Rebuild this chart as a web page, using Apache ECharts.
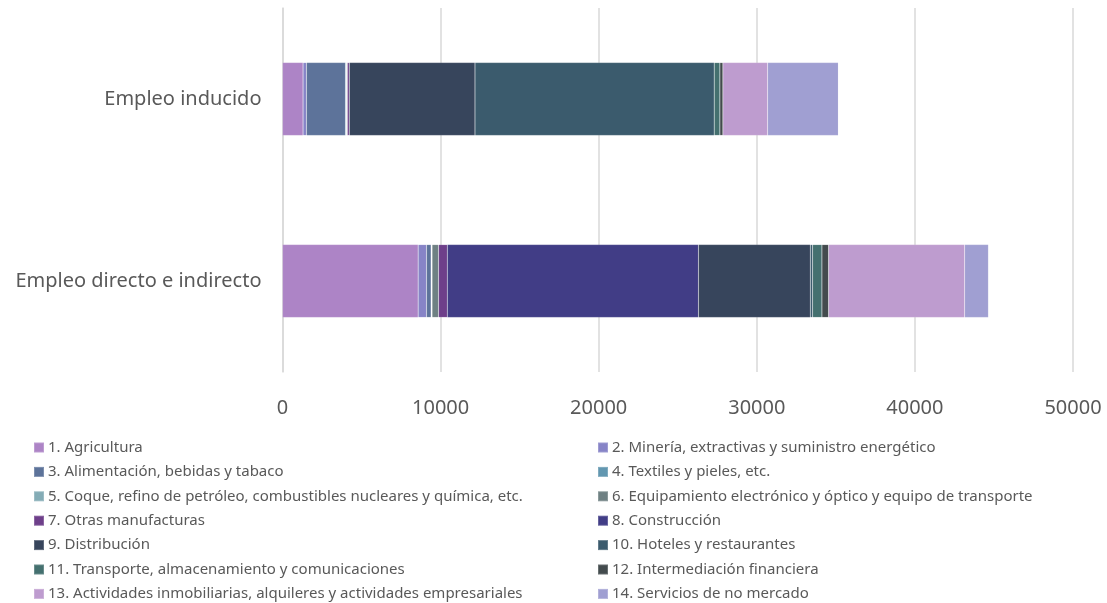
<!DOCTYPE html>
<html>
<head>
<meta charset="utf-8">
<script src="https://cdn.jsdelivr.net/npm/echarts@6/dist/echarts.min.js"></script>
<style>html,body{margin:0;padding:0;background:#fff;}#c{width:1107px;height:603px;}</style>
</head>
<body>
<div id="c"></div>
<script>
const categories = ['Empleo directo e indirecto', 'Empleo inducido'];
const sectors = [
  '1. Agricultura',
  '2. Minería, extractivas y suministro energético',
  '3. Alimentación, bebidas y tabaco',
  '4. Textiles y pieles, etc.',
  '5. Coque, refino de petróleo, combustibles nucleares y química, etc.',
  '6. Equipamiento electrónico y óptico y equipo de transporte',
  '7. Otras manufacturas',
  '8. Construcción',
  '9. Distribución',
  '10. Hoteles y restaurantes',
  '11. Transporte, almacenamiento y comunicaciones',
  '12. Intermediación financiera',
  '13. Actividades inmobiliarias, alquileres y actividades empresariales',
  '14. Servicios de no mercado'
];
// values per sector: [directo e indirecto, inducido]
const directValues = [8580, 530, 290, 30, 30, 410, 550, 15890, 7070, 150, 590, 420, 8610, 1500];
const inducedValues = [1300, 215, 2470, 40, 40, 40, 120, 0, 7950, 15130, 360, 190, 2830, 4470];
const xTicks = [0, 10000, 20000, 30000, 40000, 50000];
const colors = ['#ad84c6', '#8784c7', '#5d739a', '#6297b0', '#84acb6', '#6f8183', '#6e3f8a',
  '#413d86', '#37455c', '#3b5b6d', '#44706f', '#434b4d', '#be9ccf', '#a09fd2'];

const font = 'Noto Sans';
const series = sectors.map((name, i) => ({
  name: name,
  type: 'bar',
  stack: 'total',
  barWidth: '40%',
  itemStyle: { color: colors[i], borderColor: 'rgba(255,255,255,0.2)', borderWidth: 0.5 },
  data: [directValues[i], inducedValues[i]]
}));

const leftNames = sectors.filter((_, i) => i % 2 === 0);
const rightNames = sectors.filter((_, i) => i % 2 === 1);
const legendCommon = {
  orient: 'vertical',
  top: 440,
  height: 200,
  padding: 0,
  itemWidth: 10,
  itemHeight: 10,
  itemGap: 9.4,
  icon: 'rect',
  selectedMode: false,
  textStyle: { fontFamily: font, fontSize: 15, color: '#595959', lineHeight: 15, padding: [0, 0, 0, -1] }
};

const chart = echarts.init(document.getElementById('c'), null, { renderer: 'canvas' });
chart.setOption({
  animation: false,
  color: colors,
  grid: { left: 282.5, right: 34, top: 8, bottom: 231, containLabel: false },
  xAxis: {
    type: 'value',
    min: xTicks[0],
    max: xTicks[xTicks.length - 1],
    interval: xTicks[1] - xTicks[0],
    axisLine: { show: false },
    axisTick: { show: false },
    splitLine: { show: true, lineStyle: { color: '#d9d9d9', width: 1.5 } },
    axisLabel: { margin: 26, fontFamily: font, fontSize: 20, color: '#595959', formatter: v => String(v) }
  },
  yAxis: {
    type: 'category',
    data: categories,
    axisLine: { show: true, lineStyle: { color: '#d9d9d9', width: 1.5 } },
    axisTick: { show: false },
    axisLabel: { margin: 21, fontFamily: font, fontSize: 20, color: '#595959' }
  },
  legend: [
    Object.assign({}, legendCommon, { left: 33, data: leftNames }),
    Object.assign({}, legendCommon, { left: 597, data: rightNames })
  ],
  series: series
});
</script>
</body>
</html>
